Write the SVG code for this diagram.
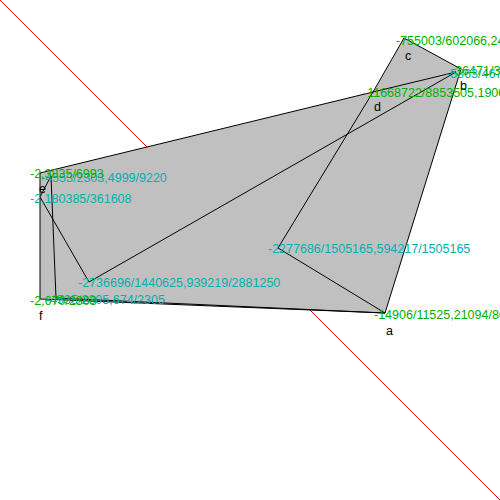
<svg xmlns="http://www.w3.org/2000/svg" width="500" height="500" viewBox="0 0 500 500">
<style>
.poly{fill:#c0c0c0;stroke:#000;stroke-width:1}
.inner{fill:none;stroke:#000;stroke-width:1}
text{font-family:"Liberation Sans",Arial,sans-serif;font-size:12.5px}
.g{fill:#00b000}
.cy{fill:#00b0b0}
.lb{fill:#000}
</style>
<rect width="500" height="500" fill="#fff"/>
<line id="diag" x1="0" y1="0" x2="500" y2="500" stroke="#f00" stroke-width="1"/>
<g id="outer">
<polygon class="poly" points="385,313 461,69 404,38 373,92 40,173 40,299"/>
</g>
<g id="connectors">
<polygon class="inner" points="385,313 278,248 373,92 456,72 89,282 40,197 51,176 56,298"/>
</g>
<g id="cyan-labels">
<text class="cy" x="268" y="253">-2277686/1505165,594217/1505165</text>
<text class="cy" x="78" y="287">-2736696/1440625,939219/2881250</text>
<text class="cy" x="30" y="203">-2,180385/361608</text>
<text class="cy" x="41" y="182">-4553/2303,4999/9220</text>
<text class="cy" x="46" y="304">-4535/2305,674/2305</text>
<text class="cy" x="446" y="78">-5363/4674,3</text>
</g>
<g id="green-labels">
<text class="g" x="374" y="319">-14906/11525,21094/80603</text>
<text class="g" x="396" y="45">-755003/602066,24877/30147</text>
<text class="g" x="363" y="97">-11668722/8853505,1900</text>
<text class="g" x="30" y="178">-2,3835/6993</text>
<text class="g" x="30" y="305">-2,670/2303</text>
<text class="g" x="451" y="75">-36471/32076</text>
</g>
<g id="node-a"><text class="lb" x="386" y="335">a</text></g>
<g id="node-b"><text class="lb" x="460" y="90">b</text></g>
<g id="node-c"><text class="lb" x="405" y="60">c</text></g>
<g id="node-d"><text class="lb" x="374" y="111">d</text></g>
<g id="node-e"><text class="lb" x="39" y="193">e</text></g>
<g id="node-f"><text class="lb" x="39" y="320">f</text></g>
</svg>
